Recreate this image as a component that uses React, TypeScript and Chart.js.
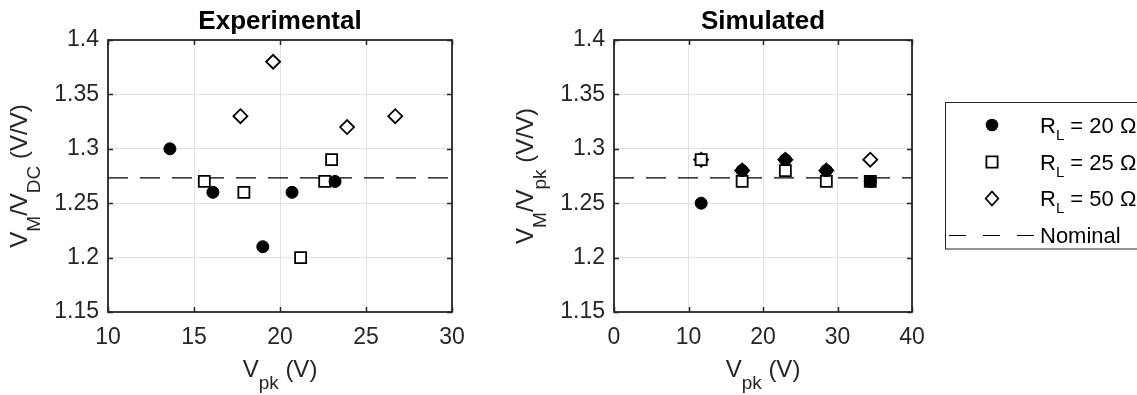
import React, { useEffect, useRef } from 'react';
import { Chart, registerables } from 'chart.js';

Chart.register(...registerables);

// ---------- data ----------
const NOMINAL = 4 / Math.PI;
const yTicks = [1.15, 1.2, 1.25, 1.3, 1.35, 1.4];
const expXTicks = [10, 15, 20, 25, 30];
const simXTicks = [0, 10, 20, 30, 40];

const expR20X = [13.6, 16.1, 19.0, 20.7, 23.2];
const expR20Y = [1.30, 1.26, 1.21, 1.26, 1.27];
const expR25X = [15.6, 17.9, 21.2, 22.6, 23.0];
const expR25Y = [1.27, 1.26, 1.20, 1.27, 1.29];
const expR50X = [17.7, 19.6, 23.9, 26.7];
const expR50Y = [1.33, 1.38, 1.32, 1.33];

const simX = [11.7, 17.2, 23.0, 28.5, 34.4];
const simR20Y = [1.25, 1.28, 1.29, 1.28, 1.27];
const simR25Y = [1.29, 1.27, 1.28, 1.27, 1.27];
const simR50Y = [1.29, 1.28, 1.29, 1.28, 1.29];

const seriesNames = ['R_L = 20 Ω', 'R_L = 25 Ω', 'R_L = 50 Ω', 'Nominal'];
const legendValues = ['20', '25', '50'];

// ---------- layout ----------
const W = 1137;
const H = 395;
const FAM = "'Liberation Sans', Arial, Helvetica, sans-serif";
const DARK = '#262626';

type Part = { t: string; sub?: boolean };

function drawRich(
  ctx: CanvasRenderingContext2D,
  parts: Part[],
  x: number,
  y: number,
  size: number,
  subSize: number,
  subShift: number,
  align: 'center' | 'left',
  bold = false
) {
  const fontFor = (p: Part) => `${bold ? 'bold ' : ''}${p.sub ? subSize : size}px ${FAM}`;
  let total = 0;
  for (const p of parts) {
    ctx.font = fontFor(p);
    total += ctx.measureText(p.t).width;
  }
  let cx = align === 'center' ? x - total / 2 : x;
  ctx.textAlign = 'left';
  ctx.textBaseline = 'alphabetic';
  for (const p of parts) {
    ctx.font = fontFor(p);
    ctx.fillText(p.t, cx, y + (p.sub ? subShift : 0));
    cx += ctx.measureText(p.t).width;
  }
}

const pts = (xs: number[], ys: number[]) => xs.map((x, i) => ({ x, y: ys[i] }));

function makeDatasets(
  r20: { x: number; y: number }[],
  r25: { x: number; y: number }[],
  r50: { x: number; y: number }[],
  xmin: number,
  xmax: number
) {
  return [
    {
      label: seriesNames[0],
      data: r20,
      pointStyle: 'circle',
      pointRadius: 6,
      pointBorderWidth: 1,
      pointBackgroundColor: '#000',
      pointBorderColor: '#000',
      showLine: false,
    },
    {
      label: seriesNames[1],
      data: r25,
      pointStyle: 'rect',
      pointRadius: 7.8,
      pointBorderWidth: 1.8,
      pointBackgroundColor: '#fff',
      pointBorderColor: '#000',
      showLine: false,
    },
    {
      label: seriesNames[2],
      data: r50,
      pointStyle: 'rectRot',
      pointRadius: 7,
      pointBorderWidth: 1.8,
      pointBackgroundColor: '#fff',
      pointBorderColor: '#000',
      showLine: false,
    },
    {
      label: seriesNames[3],
      data: [
        { x: xmin, y: NOMINAL },
        { x: xmax, y: NOMINAL },
      ],
      showLine: true,
      pointRadius: 0,
      borderColor: '#000',
      borderWidth: 1.2,
      borderDash: [20, 12],
      fill: false,
    },
  ];
}

function makeConfig(opts: {
  datasets: any[];
  xTicks: number[];
  plotLeft: number;
  plotRight: number;
  title: string;
  yLabel: Part[];
  yLabelX: number;
  legend: boolean;
}) {
  const plotTop = 40;
  const plotBottom = 312;
  const xs = opts.xTicks;
  const boxPlugin = {
    id: 'boxAndText',
    afterDraw(chart: any) {
      const ctx: CanvasRenderingContext2D = chart.ctx;
      const a = chart.chartArea;
      const sx = chart.scales.x;
      const sy = chart.scales.y;
      ctx.save();
      // inward ticks
      ctx.strokeStyle = DARK;
      ctx.lineWidth = 1.5;
      const TL = 5;
      ctx.beginPath();
      for (const v of xs) {
        const px = Math.round(sx.getPixelForValue(v)) + 0.5;
        ctx.moveTo(px, a.bottom);
        ctx.lineTo(px, a.bottom - TL);
        ctx.moveTo(px, a.top);
        ctx.lineTo(px, a.top + TL);
      }
      for (const v of yTicks) {
        const py = Math.round(sy.getPixelForValue(v)) + 0.5;
        ctx.moveTo(a.left, py);
        ctx.lineTo(a.left + TL, py);
        ctx.moveTo(a.right, py);
        ctx.lineTo(a.right - TL, py);
      }
      ctx.stroke();
      // box
      ctx.lineWidth = 1.8;
      ctx.strokeRect(a.left, a.top, a.right - a.left, a.bottom - a.top);

      const cxp = (a.left + a.right) / 2;
      const cyp = (a.top + a.bottom) / 2;
      // title
      ctx.fillStyle = '#000';
      drawRich(ctx, [{ t: opts.title }], cxp, 28.5, 26, 26, 0, 'center', true);
      // x label
      ctx.fillStyle = DARK;
      drawRich(
        ctx,
        [{ t: 'V' }, { t: 'pk', sub: true }, { t: ' (V)' }],
        cxp,
        376.5,
        24,
        19,
        12.5,
        'center'
      );
      // y label
      ctx.save();
      ctx.translate(opts.yLabelX, cyp);
      ctx.rotate(-Math.PI / 2);
      drawRich(ctx, opts.yLabel, 0, 0, 24, 19, 12.5, 'center');
      ctx.restore();

      if (opts.legend) {
        const lx = 945.5;
        const ly = 102.5;
        ctx.fillStyle = '#fff';
        ctx.fillRect(lx, ly, 260, 146.5);
        ctx.strokeStyle = DARK;
        ctx.lineWidth = 1;
        ctx.strokeRect(lx, ly, 260, 146.5);
        const rows = [125, 162, 198.5, 235];
        const mx = 992;
        const tx = 1040;
        ctx.fillStyle = '#000';
        ctx.strokeStyle = '#000';
        // circle
        ctx.beginPath();
        ctx.arc(mx, rows[0], 6.3, 0, Math.PI * 2);
        ctx.fill();
        // square
        ctx.lineWidth = 1.8;
        ctx.fillStyle = '#fff';
        ctx.beginPath();
        ctx.rect(mx - 5.6, rows[1] - 5.6, 11.2, 11.2);
        ctx.fill();
        ctx.stroke();
        // diamond
        ctx.beginPath();
        ctx.moveTo(mx, rows[2] - 7);
        ctx.lineTo(mx + 6.3, rows[2]);
        ctx.lineTo(mx, rows[2] + 7);
        ctx.lineTo(mx - 6.3, rows[2]);
        ctx.closePath();
        ctx.fill();
        ctx.stroke();
        // dashed
        ctx.lineWidth = 1.2;
        ctx.setLineDash([17, 17]);
        ctx.beginPath();
        ctx.moveTo(949, rows[3] + 0.5);
        ctx.lineTo(1036, rows[3] + 0.5);
        ctx.stroke();
        ctx.setLineDash([]);
        ctx.fillStyle = '#000';
        for (let i = 0; i < 3; i++) {
          drawRich(
            ctx,
            [{ t: 'R' }, { t: 'L', sub: true }, { t: ` = ${legendValues[i]} Ω` }],
            tx,
            rows[i] + 7.8,
            22,
            15,
            7,
            'left'
          );
        }
        drawRich(ctx, [{ t: seriesNames[3] }], tx, rows[3] + 7.5, 22, 22, 0, 'left');
      }
      ctx.restore();
    },
  };

  return {
    type: 'scatter' as const,
    data: { datasets: opts.datasets },
    plugins: [boxPlugin],
    options: {
      responsive: false,
      animation: false as const,
      events: [],
      layout: { padding: { left: 0, top: plotTop, right: W - opts.plotRight, bottom: 0 } },
      plugins: {
        legend: { display: false },
        tooltip: { enabled: false },
        title: { display: false },
      },
      scales: {
        x: {
          type: 'linear' as const,
          min: xs[0],
          max: xs[xs.length - 1],
          afterBuildTicks: (s: any) => {
            s.ticks = xs.map((v) => ({ value: v }));
          },
          afterFit: (s: any) => {
            s.height = H - plotBottom;
          },
          grid: { color: '#e2e2e2', lineWidth: 1, drawTicks: false },
          border: { display: false },
          ticks: {
            autoSkip: false,
            maxRotation: 0,
            padding: 12,
            color: DARK,
            font: { family: FAM, size: 23 },
            callback: (v: any) => String(v),
          },
        },
        y: {
          type: 'linear' as const,
          min: yTicks[0],
          max: yTicks[yTicks.length - 1],
          afterBuildTicks: (s: any) => {
            s.ticks = yTicks.map((v) => ({ value: v }));
          },
          afterFit: (s: any) => {
            s.width = opts.plotLeft;
          },
          grid: { color: '#e2e2e2', lineWidth: 1, drawTicks: false },
          border: { display: false },
          ticks: {
            autoSkip: false,
            padding: 9,
            color: DARK,
            font: { family: FAM, size: 23 },
            callback: (v: any) => String(Math.round(v * 100) / 100),
          },
        },
      },
    },
  };
}

export default function App() {
  const ref1 = useRef<HTMLCanvasElement | null>(null);
  const ref2 = useRef<HTMLCanvasElement | null>(null);

  useEffect(() => {
    const c1 = new Chart(
      ref1.current as HTMLCanvasElement,
      makeConfig({
        datasets: makeDatasets(
          pts(expR20X, expR20Y),
          pts(expR25X, expR25Y),
          pts(expR50X, expR50Y),
          expXTicks[0],
          expXTicks[expXTicks.length - 1]
        ),
        xTicks: expXTicks,
        plotLeft: 108,
        plotRight: 452,
        title: 'Experimental',
        yLabel: [{ t: 'V' }, { t: 'M', sub: true }, { t: '/V' }, { t: 'DC', sub: true }, { t: ' (V/V)' }],
        yLabelX: 27,
        legend: false,
      }) as any
    );
    const c2 = new Chart(
      ref2.current as HTMLCanvasElement,
      makeConfig({
        datasets: makeDatasets(
          pts(simX, simR20Y),
          pts(simX, simR25Y),
          pts(simX, simR50Y),
          simXTicks[0],
          simXTicks[simXTicks.length - 1]
        ),
        xTicks: simXTicks,
        plotLeft: 614,
        plotRight: 912,
        title: 'Simulated',
        yLabel: [{ t: 'V' }, { t: 'M', sub: true }, { t: '/V' }, { t: 'pk', sub: true }, { t: ' (V/V)' }],
        yLabelX: 533,
        legend: true,
      }) as any
    );
    return () => {
      c1.destroy();
      c2.destroy();
    };
  }, []);

  const canvasStyle: React.CSSProperties = { position: 'absolute', left: 0, top: 0 };
  return (
    <div
      style={{
        position: 'fixed',
        left: 0,
        top: 0,
        width: W,
        height: H,
        background: '#fff',
        overflow: 'hidden',
      }}
    >
      <canvas ref={ref1} width={W} height={H} style={canvasStyle} />
      <canvas ref={ref2} width={W} height={H} style={canvasStyle} />
    </div>
  );
}
